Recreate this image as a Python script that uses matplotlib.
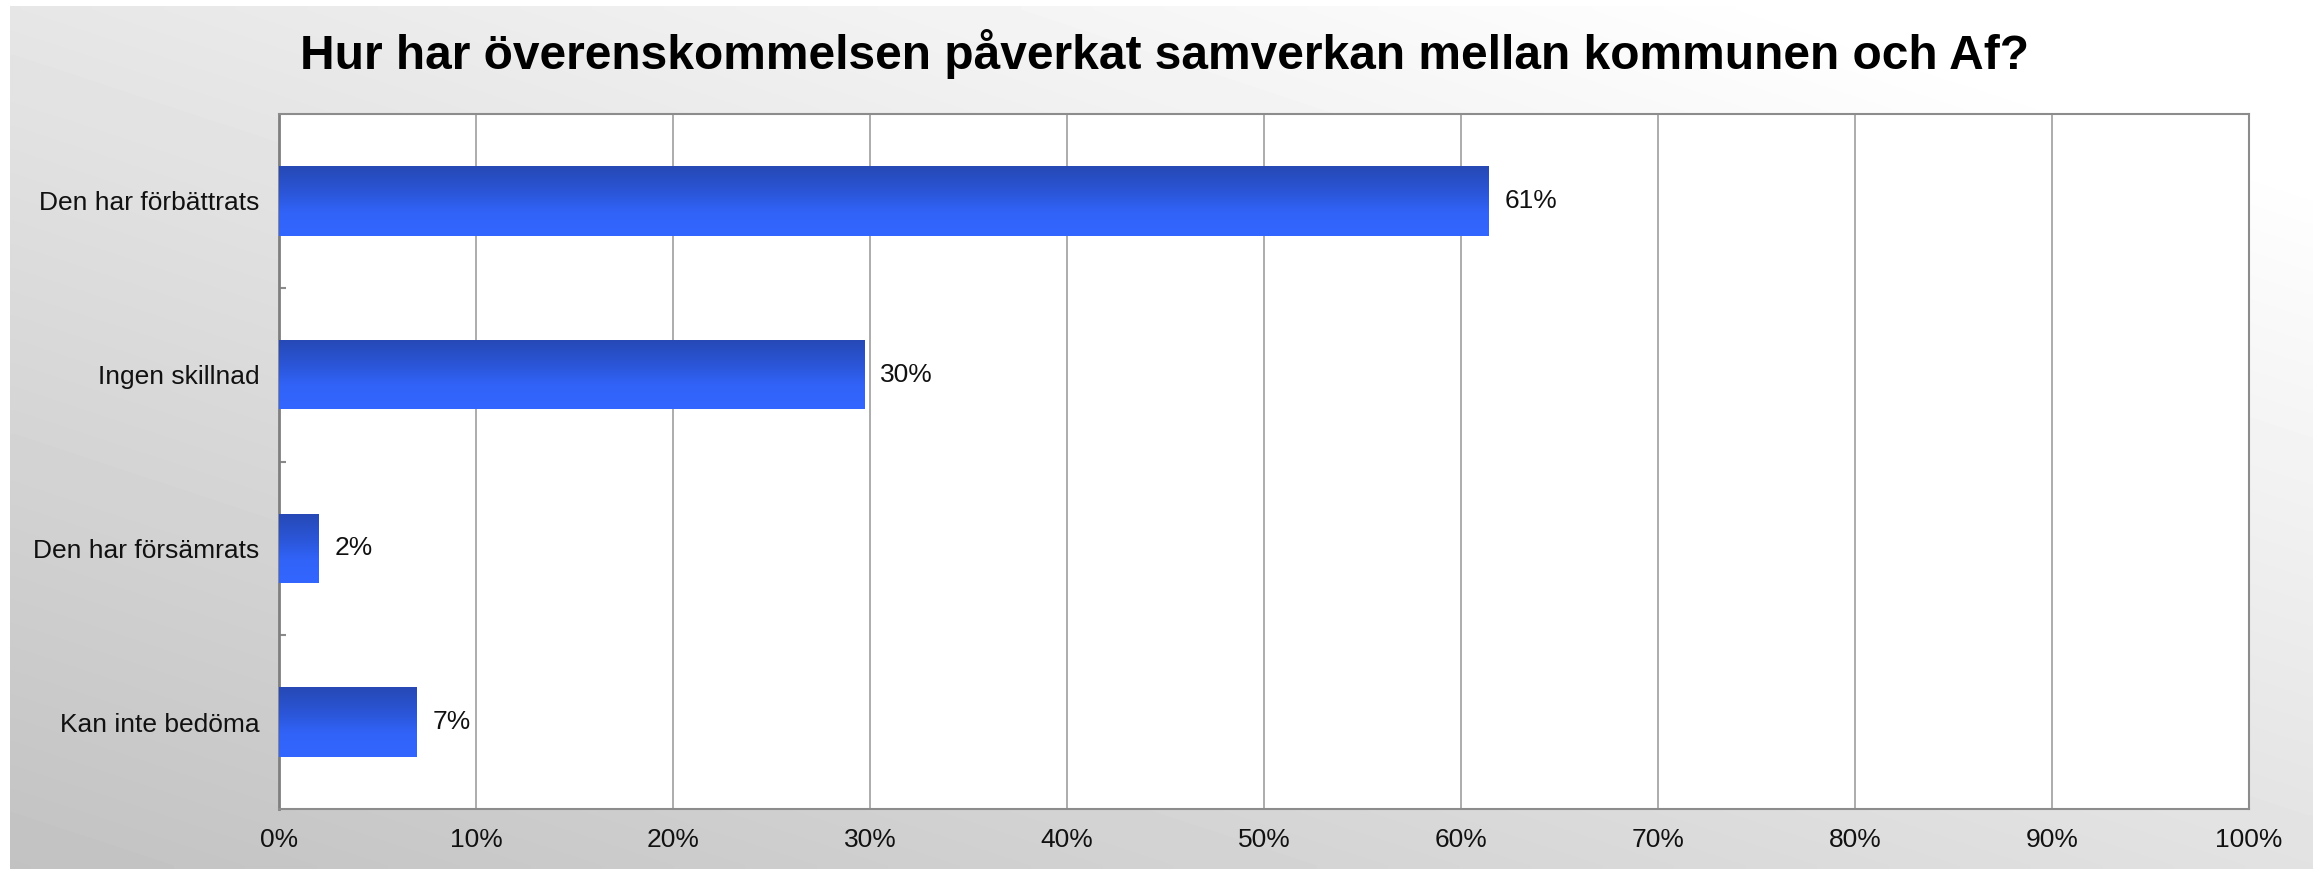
import numpy as np
import matplotlib
matplotlib.use('Agg')
import matplotlib.pyplot as plt
from matplotlib.colors import LinearSegmentedColormap

plt.rcParams['font.family'] = ['Liberation Sans', 'DejaVu Sans']

# Data
categories = ['Den har förbättrats', 'Ingen skillnad', 'Den har försämrats', 'Kan inte bedöma']
values = [61.4, 29.7, 2.0, 7.0]
value_labels = ['61%', '30%', '2%', '7%']
x_ticks = [0, 10, 20, 30, 40, 50, 60, 70, 80, 90, 100]
title = 'Hur har överenskommelsen påverkat samverkan mellan kommunen och Af?'

W, H = 2318, 869
fig = plt.figure(figsize=(W / 100, H / 100), dpi=100)
fig.patch.set_facecolor('white')

# Grey diagonal gradient panel behind everything
bg = fig.add_axes([10 / W, 0, 2303 / W, 863 / H], zorder=0)
gx, gy = np.meshgrid(np.linspace(0, 1, 300), np.linspace(0, 1, 120))
shade = np.clip(194 + 32 * gx + 36 * gy, 0, 255) / 255.0
bg.imshow(shade, cmap='gray', vmin=0, vmax=1, origin='lower', aspect='auto',
          extent=[0, 1, 0, 1], interpolation='bilinear')
bg.set_axis_off()

ax = fig.add_axes([279 / W, 1 - 809 / H, (2249 - 279) / W, (809 - 114) / H], zorder=1)
ax.set_facecolor('white')

y = np.arange(len(categories))
bars = ax.barh(y, values, height=0.4, color='none', edgecolor='none', zorder=3)

# Vertical blue gradient in each bar (dark on top, bright at the bottom)
bar_cmap = LinearSegmentedColormap.from_list('bluegrad', ['#3366ff', '#3163f8', '#2a54d4', '#2649b5'])
grad = np.linspace(0, 1, 100).reshape(-1, 1)
for b in bars:
    x0, y0 = b.get_x(), b.get_y()
    w, h = b.get_width(), b.get_height()
    im = ax.imshow(grad, cmap=bar_cmap, aspect='auto', origin='lower',
                   extent=[x0, x0 + w, y0 + h, y0], zorder=3, interpolation='bilinear')
    im.set_clip_path(b)

for yi, v, lab in zip(y, values, value_labels):
    ax.text(v + 0.8, yi, lab, va='center', ha='left', fontsize=19, color='#111111', zorder=4)

ax.set_xlim(0, 100)
ax.set_ylim(len(categories) - 0.5, -0.5)
ax.set_xticks(x_ticks)
ax.set_xticklabels([f'{t}%' for t in x_ticks], fontsize=19, color='#111111')
ax.set_yticks(y)
ax.set_yticklabels(categories, fontsize=19, color='#111111')
ax.set_yticks(np.arange(0.5, len(categories) - 0.5, 1), minor=True)
ax.tick_params(axis='x', length=0, pad=14)
ax.tick_params(axis='y', which='major', length=0, pad=14)
ax.tick_params(axis='y', which='minor', direction='in', length=5, width=1.5, color='#8a8a8a')

ax.grid(axis='x', color='#a6a6a6', linewidth=1.3, zorder=1)
ax.set_axisbelow(True)
for side in ['top', 'right', 'bottom']:
    ax.spines[side].set_color('#8c8c8c')
    ax.spines[side].set_linewidth(1.5)
ax.spines['left'].set_color('#7f7f7f')
ax.spines['left'].set_linewidth(2)

fig.text(1164 / W, 1 - 54 / H, title, ha='center', va='center', fontsize=34.5,
         fontweight='bold', color='#000000')

plt.savefig('out.png', dpi=100)
